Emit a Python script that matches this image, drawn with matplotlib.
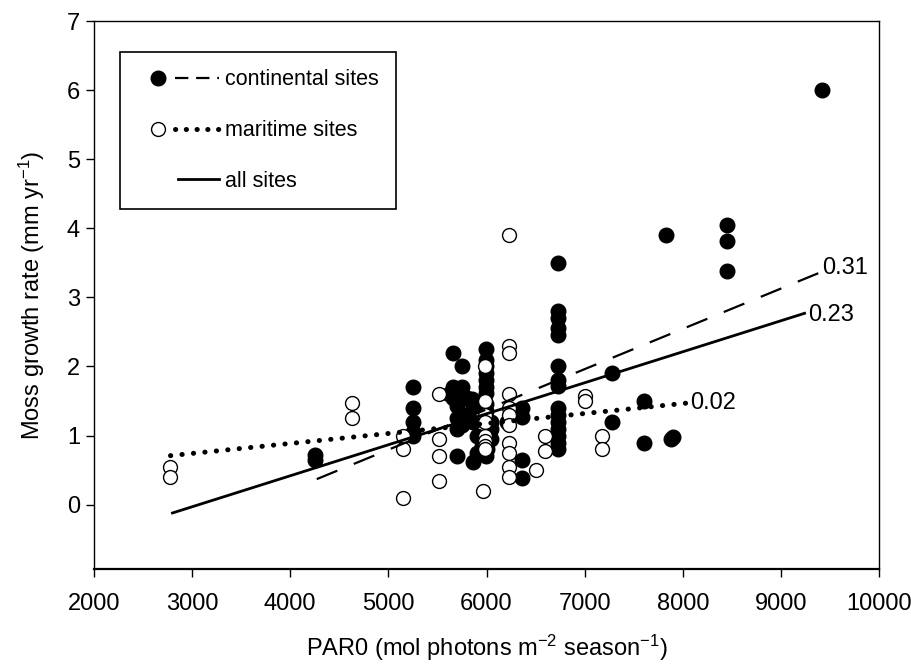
import numpy as np
import matplotlib
matplotlib.use('Agg')
import matplotlib.pyplot as plt
from matplotlib.lines import Line2D
from matplotlib.legend_handler import HandlerBase

plt.rcParams['font.family'] = ['Liberation Sans', 'DejaVu Sans']
plt.rcParams['mathtext.fontset'] = 'custom'
plt.rcParams['mathtext.rm'] = 'Liberation Sans'
plt.rcParams['mathtext.default'] = 'regular'

# continental sites (filled circles)
cont_x = [9420, 8450, 8450, 8450, 7830,
          6730, 6730, 6730, 6730, 6730, 6730, 6730, 6730, 6730, 6730,
          6730, 6730, 6730, 6730, 6730,
          7280, 7600, 7280, 7600, 7880, 7900,
          4250, 4250,
          5250, 5250, 5250, 5250, 5250,
          5660, 5750,
          5990, 5990, 5990, 5990, 5990, 5990, 5990,
          5660, 5700, 5750, 5800, 5660, 5750, 5620,
          5700, 5700, 5700, 5860, 5860, 5850, 5800, 5750,
          5990, 5990, 5990, 6050, 6050, 6050,
          5700, 5860, 5990, 5900, 5950, 6000, 5900,
          6360, 6360, 6360, 6360, 6210]
cont_y = [6.00, 4.05, 3.82, 3.38, 3.90,
          3.50, 2.80, 2.70, 2.55, 2.45, 2.00, 1.80, 1.72, 1.40, 1.30,
          1.20, 1.10, 1.00, 0.90, 0.80,
          1.90, 1.50, 1.20, 0.90, 0.95, 0.98,
          0.72, 0.64,
          1.70, 1.40, 1.20, 1.05, 1.00,
          2.20, 2.00,
          2.25, 2.10, 2.00, 1.90, 1.80, 1.70, 1.62,
          1.70, 1.65, 1.60, 1.55, 1.55, 1.70, 1.60,
          1.43, 1.25, 1.10, 1.43, 1.20, 1.53, 1.30, 1.15,
          1.45, 1.35, 1.25, 1.20, 0.95, 1.10,
          0.70, 0.62, 0.70, 1.00, 0.85, 0.80, 0.75,
          1.40, 1.27, 0.65, 0.38, 1.20]

# maritime sites (open circles)
mar_x = [2780, 2780, 4630, 4630,
         5150, 5150, 5150,
         5520, 5520, 5520, 5520,
         5960,
         5980, 5980, 5980, 5980, 5980, 5980, 5980, 5980,
         6230, 6230, 6230, 6230, 6230, 6230, 6230, 6230, 6230, 6230, 6230,
         6500, 6600, 6600, 7000, 7000, 7180, 7180]
mar_y = [0.55, 0.40, 1.47, 1.25,
         1.00, 0.80, 0.10,
         1.60, 0.95, 0.70, 0.34,
         0.20,
         2.00, 1.50, 1.30, 1.20, 1.00, 0.92, 0.85, 0.80,
         3.90, 2.30, 2.20, 1.60, 1.40, 1.30, 1.15, 0.90, 0.75, 0.55, 0.40,
         0.50, 1.00, 0.78, 1.57, 1.50, 1.00, 0.80]

# regression line ends
cont_fit_x = [4270, 9380]
cont_fit_y = [0.37, 3.35]
mar_fit_x = [2780, 8040]
mar_fit_y = [0.71, 1.47]
all_fit_x = [2800, 9240]
all_fit_y = [-0.12, 2.77]

r2_text = ['0.31', '0.23', '0.02']
r2_x = [9420, 9280, 8075]
r2_y = [3.43, 2.74, 1.47]

x_ticks = list(range(2000, 10001, 1000))
y_ticks = [0, 1, 2, 3, 4, 5, 6, 7]

FS = 17       # axes text
FS_LEG = 15.5 # legend text


class MarkerLine(HandlerBase):
    # marker on the left, line on the right, like the original legend
    def create_artists(self, legend, orig_handle, xdescent, ydescent,
                       width, height, fontsize, trans):
        mk, ln, x_start = orig_handle
        y = height / 2 - ydescent
        arts = []
        if mk is not None:
            m = Line2D([-xdescent + 0.26 * width], [y], ls='none', **mk)
            arts.append(m)
        l = Line2D([-xdescent + x_start * width, -xdescent + width], [y, y], **ln)
        arts.append(l)
        for a in arts:
            a.set_transform(trans)
        return arts


fig = plt.figure(figsize=(9.12, 6.67), dpi=100)
ax = fig.add_axes([0.103, 0.147, 0.861, 0.8215])

ax.plot(cont_x, cont_y, 'o', color='black', ms=10.5, mec='black', zorder=3)
ax.plot(mar_x, mar_y, 'o', mfc='white', mec='black', ms=10, mew=1.0, zorder=4)

dash_kw = dict(color='black', lw=1.6, dashes=(10, 8))
dot_kw = dict(color='black', lw=3.6, dashes=(0.05, 2.25), dash_capstyle='round')
solid_kw = dict(color='black', lw=2.0)
ax.plot(cont_fit_x, cont_fit_y, zorder=5, **dash_kw)
ax.plot(mar_fit_x, mar_fit_y, zorder=5, **dot_kw)
ax.plot(all_fit_x, all_fit_y, zorder=5, **solid_kw)

for t, x, y in zip(r2_text, r2_x, r2_y):
    ax.text(x, y, t, fontsize=FS, ha='left', va='center')

ax.set_xlim(2000, 10000)
ax.set_ylim(-0.93, 7)
ax.set_xticks(x_ticks)
ax.set_yticks(y_ticks)
ax.tick_params(direction='out', length=6, width=1.0, labelsize=FS)
ax.tick_params(axis='x', pad=11)
ax.tick_params(axis='y', pad=4)
for s in ax.spines.values():
    s.set_linewidth(1.0)
ax.spines['bottom'].set_linewidth(1.6)

ax.set_xlabel('PAR0 (mol photons m$^{-2}$ season$^{-1}$)', fontsize=FS, labelpad=13)
ax.set_ylabel('Moss growth rate (mm yr$^{-1}$)', fontsize=FS, labelpad=14)

fill_mk = dict(marker='o', ms=10.5, mfc='black', mec='black')
open_mk = dict(marker='o', ms=10, mfc='white', mec='black', mew=1.0)
leg_dash = dict(color='black', lw=1.6, dashes=(6, 3.5))
leg_dot = dict(color='black', lw=3.6, dashes=(0.05, 2.1), dash_capstyle='round')
handles = [(fill_mk, leg_dash, 0.46), (open_mk, leg_dot, 0.46), (None, solid_kw, 0.50)]
labels = ['continental sites', 'maritime sites', 'all sites']
leg = ax.legend(handles, labels, handler_map={tuple: MarkerLine()},
                loc='upper left', bbox_to_anchor=(0.033, 0.943), borderaxespad=0,
                fontsize=FS_LEG, handlelength=3.8, handletextpad=0.3,
                labelspacing=1.38, borderpad=0.8, fancybox=False,
                edgecolor='black', framealpha=1)
leg.get_frame().set_linewidth(1.2)

fig.savefig('out.png', dpi=100)
